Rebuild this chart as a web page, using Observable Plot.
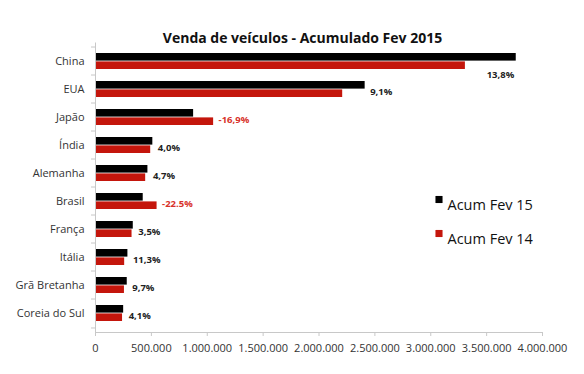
<!DOCTYPE html>
<html>
<head>
<meta charset="utf-8">
<script src="https://cdn.jsdelivr.net/npm/d3@7"></script>
<script src="https://cdn.jsdelivr.net/npm/@observablehq/plot@0.6"></script>
<style>
  html, body { margin: 0; padding: 0; background: #fff; }
</style>
</head>
<body>
<div id="chart"></div>
<script>
const title = "Venda de veículos - Acumulado Fev 2015";
const categories = ["China", "EUA", "Japão", "Índia", "Alemanha", "Brasil", "França", "Itália", "Grã Bretanha", "Coreia do Sul"];
const acumFev15 = [3765000, 2413000, 878000, 513000, 469000, 427000, 338000, 290000, 284000, 252000];
const acumFev14 = [3310000, 2212000, 1057000, 494000, 449000, 551000, 327000, 261000, 259000, 242000];
const variation = ["13,8%", "9,1%", "-16,9%", "4,0%", "4,7%", "-22.5%", "3,5%", "11,3%", "9,7%", "4,1%"];
const xTicks = [0, 500000, 1000000, 1500000, 2000000, 2500000, 3000000, 3500000, 4000000];
const seriesNames = ["Acum Fev 15", "Acum Fev 14"];
const seriesColors = ["#000000", "#c4160c"];
const labelRed = "#d8322a";

const rows = categories.map((c, i) => ({
  cat: c, v15: acumFev15[i], v14: acumFev14[i], pct: variation[i],
  neg: variation[i].startsWith("-"), max: Math.max(acumFev15[i], acumFev14[i])
}));

const ptFormat = d3.formatLocale({decimal: ",", thousands: ".", grouping: [3], currency: ["", ""]}).format(",d");

const yRange = [42.5, 332];
const padIn = 0.42, padOut = 0.21;
const step = (yRange[1] - yRange[0]) / (categories.length - padIn + 2 * padOut);
const half = step * (1 - padIn) / 2;
const font = "'Open Sans', sans-serif";
const axisGray = "#c8c8c8";

const chart = Plot.plot({
  width: 584,
  height: 374,
  marginLeft: 95,
  marginRight: 42,
  marginTop: 42.5,
  marginBottom: 42,
  style: {fontFamily: font, background: "#fff"},
  x: {domain: [0, 4000000], axis: null},
  y: {domain: categories, range: yRange, paddingInner: padIn, paddingOuter: padOut, axis: null},
  marks: [
    Plot.barX(rows, {x: "v15", y: "cat", fill: seriesColors[0], insetBottom: half}),
    Plot.barX(rows, {x: "v14", y: "cat", fill: seriesColors[1], insetTop: half}),
    Plot.ruleX([0], {stroke: axisGray}),
    Plot.ruleY(categories, {y: d => d, x1: 0, x2: 0, insetLeft: -4, dy: -step / 2, stroke: axisGray}),
    Plot.ruleY(categories.slice(-1), {y: d => d, x1: 0, x2: 0, insetLeft: -4, dy: step / 2, stroke: axisGray}),
    Plot.frame({anchor: "bottom", stroke: axisGray}),
    Plot.axisX({ticks: xTicks, tickFormat: ptFormat, tickSize: 4, tickPadding: 8, stroke: axisGray, color: "#333", fontSize: 11, fontFamily: font}),
    Plot.axisY({tickSize: 0, tickPadding: 11, label: null, color: "#333", fontSize: 11, fontFamily: font}),
    Plot.text(rows.filter(d => d.max <= 3000000), {
      x: "max", y: "cat", text: "pct", dx: 5, dy: 2, textAnchor: "start",
      fill: d => d.neg ? labelRed : "#222", fontWeight: "bold", fontSize: 9.5
    }),
    Plot.text(rows.filter(d => d.max > 3000000), {
      x: "v15", y: "cat", text: "pct", dx: -2, dy: 13, textAnchor: "end",
      fill: "#222", fontWeight: "bold", fontSize: 9.5
    }),
    Plot.text([title], {frameAnchor: "top", dx: -16.5, dy: -9.5, fontWeight: "bold", fontSize: 14, fill: "#111"}),
    Plot.dot([seriesNames[0]], {frameAnchor: "top-left", dx: 343.5, dy: 156.5, symbol: "square", r: 4, fill: seriesColors[0]}),
    Plot.text([seriesNames[0]], {frameAnchor: "top-left", dx: 352, dy: 156.5, textAnchor: "start", fontSize: 14.5, fill: "#111"}),
    Plot.dot([seriesNames[1]], {frameAnchor: "top-left", dx: 343.5, dy: 190.5, symbol: "square", r: 4, fill: seriesColors[1]}),
    Plot.text([seriesNames[1]], {frameAnchor: "top-left", dx: 352, dy: 190.5, textAnchor: "start", fontSize: 14.5, fill: "#111"})
  ]
});
document.getElementById("chart").appendChild(chart);
</script>
</body>
</html>
